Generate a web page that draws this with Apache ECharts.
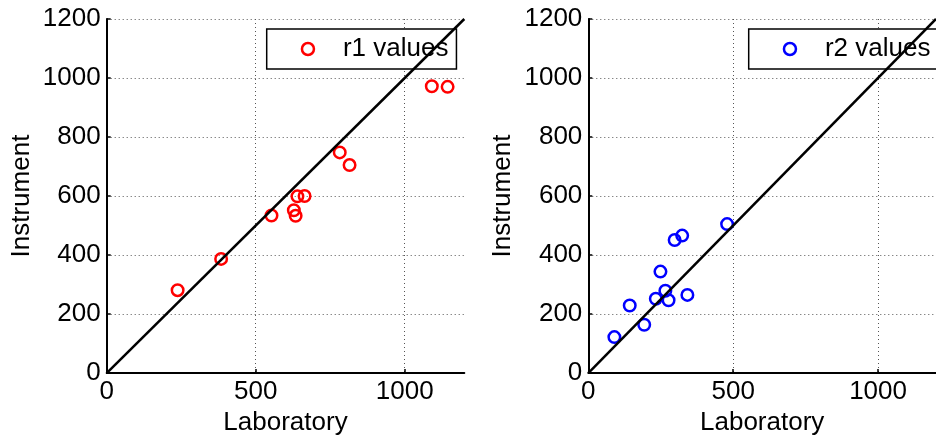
<!DOCTYPE html>
<html>
<head>
<meta charset="utf-8">
<script src="https://cdn.jsdelivr.net/npm/echarts@6/dist/echarts.min.js"></script>
<style>
html,body{margin:0;padding:0;background:#fff;}
#chart{width:936px;height:441px;}
</style>
</head>
<body>
<div id="chart"></div>
<script>
// ---- data ----
const r1Lab  = [238, 384, 553, 628, 634, 640, 664, 782, 815, 1091, 1144];
const r1Inst = [281, 387, 534, 552, 533, 599, 600, 748, 705, 972, 970];
const r2Lab  = [90, 143, 193, 233, 249, 266, 277, 298, 324, 342, 479];
const r2Inst = [122, 229, 164, 252, 344, 279, 247, 451, 466, 265, 505];
const lineX  = [0, 1200];
const lineY  = [0, 1200];
const seriesNames = ['r1 values', 'r2 values'];
const xLabelName = 'Laboratory';
const yLabelName = 'Instrument';
const axisMax = 1200;
const xInterval = 500;
const yInterval = 200;

const FONT = 'Liberation Sans, Arial, sans-serif';
const FS = 26;

function pairs(a, b) { return a.map((v, i) => [v, b[i]]); }
const plain = v => String(v);

function makeX(idx) {
  return {
    gridIndex: idx, type: 'value', min: 0, max: axisMax, interval: xInterval,
    name: xLabelName, nameLocation: 'middle', nameGap: 35,
    nameTextStyle: { fontFamily: FONT, fontSize: FS, color: '#000' },
    axisLine: { show: true, onZero: false, lineStyle: { color: '#000', width: 2 } },
    axisTick: { show: true, inside: true, length: 4, lineStyle: { color: '#000', width: 1.5 } },
    axisLabel: { fontFamily: FONT, fontSize: FS, color: '#000', margin: 6, showMaxLabel: false, formatter: plain },
    splitLine: { show: true, showMaxLine: false, lineStyle: { color: '#555', type: [1, 3], width: 1 } }
  };
}
function makeY(idx) {
  return {
    gridIndex: idx, type: 'value', min: 0, max: axisMax, interval: yInterval,
    name: yLabelName, nameLocation: 'middle', nameGap: 72, nameRotate: 90,
    nameTextStyle: { fontFamily: FONT, fontSize: FS, color: '#000' },
    axisLine: { show: true, onZero: false, lineStyle: { color: '#000', width: 2 } },
    axisTick: { show: true, inside: true, length: 4, lineStyle: { color: '#000', width: 1.5 } },
    axisLabel: { fontFamily: FONT, fontSize: FS, color: '#000', margin: 6, formatter: plain },
    splitLine: { show: true, lineStyle: { color: '#555', type: [1, 3], width: 1 } }
  };
}
function makeLegend(name, color, left) {
  return {
    data: [{ name: name, itemStyle: { color: 'rgba(0,0,0,0)', borderColor: color, borderWidth: 2.5, opacity: 1 } }],
    left: left, top: 29, orient: 'horizontal',
    itemWidth: 12, itemHeight: 12,
    padding: [7, 8, 7, 34],
    backgroundColor: '#fff', borderColor: '#000', borderWidth: 1.5, borderRadius: 0,
    textStyle: { fontFamily: FONT, fontSize: FS, color: '#000', padding: [0, 0, 0, 24] },
    selectedMode: false
  };
}

const chart = echarts.init(document.getElementById('chart'), null, { renderer: 'canvas' });
chart.setOption({
  animation: false,
  backgroundColor: '#fff',
  grid: [
    { left: 106.7, top: 19, width: 357.6, height: 356.7, containLabel: false },
    { left: 588.3, top: 19, width: 357.6, height: 356.7, containLabel: false }
  ],
  xAxis: [makeX(0), makeX(1)],
  yAxis: [makeY(0), makeY(1)],
  legend: [makeLegend(seriesNames[0], '#ff0000', 266.7), makeLegend(seriesNames[1], '#0000ff', 748.7)],
  series: [
    {
      name: seriesNames[0], type: 'scatter', xAxisIndex: 0, yAxisIndex: 0,
      symbol: 'circle', symbolSize: 11.5,
      itemStyle: { color: 'rgba(0,0,0,0)', borderColor: '#ff0000', borderWidth: 2.5, opacity: 1 },
      data: pairs(r1Lab, r1Inst), z: 3
    },
    {
      name: 'fit1', type: 'line', xAxisIndex: 0, yAxisIndex: 0,
      showSymbol: false, symbol: 'none',
      lineStyle: { color: '#000', width: 2.5 }, data: pairs(lineX, lineY), z: 4
    },
    {
      name: seriesNames[1], type: 'scatter', xAxisIndex: 1, yAxisIndex: 1,
      symbol: 'circle', symbolSize: 11.5,
      itemStyle: { color: 'rgba(0,0,0,0)', borderColor: '#0000ff', borderWidth: 2.5, opacity: 1 },
      data: pairs(r2Lab, r2Inst), z: 3
    },
    {
      name: 'fit2', type: 'line', xAxisIndex: 1, yAxisIndex: 1,
      showSymbol: false, symbol: 'none',
      lineStyle: { color: '#000', width: 2.5 }, data: pairs(lineX, lineY), z: 4
    }
  ]
});
</script>
</body>
</html>
